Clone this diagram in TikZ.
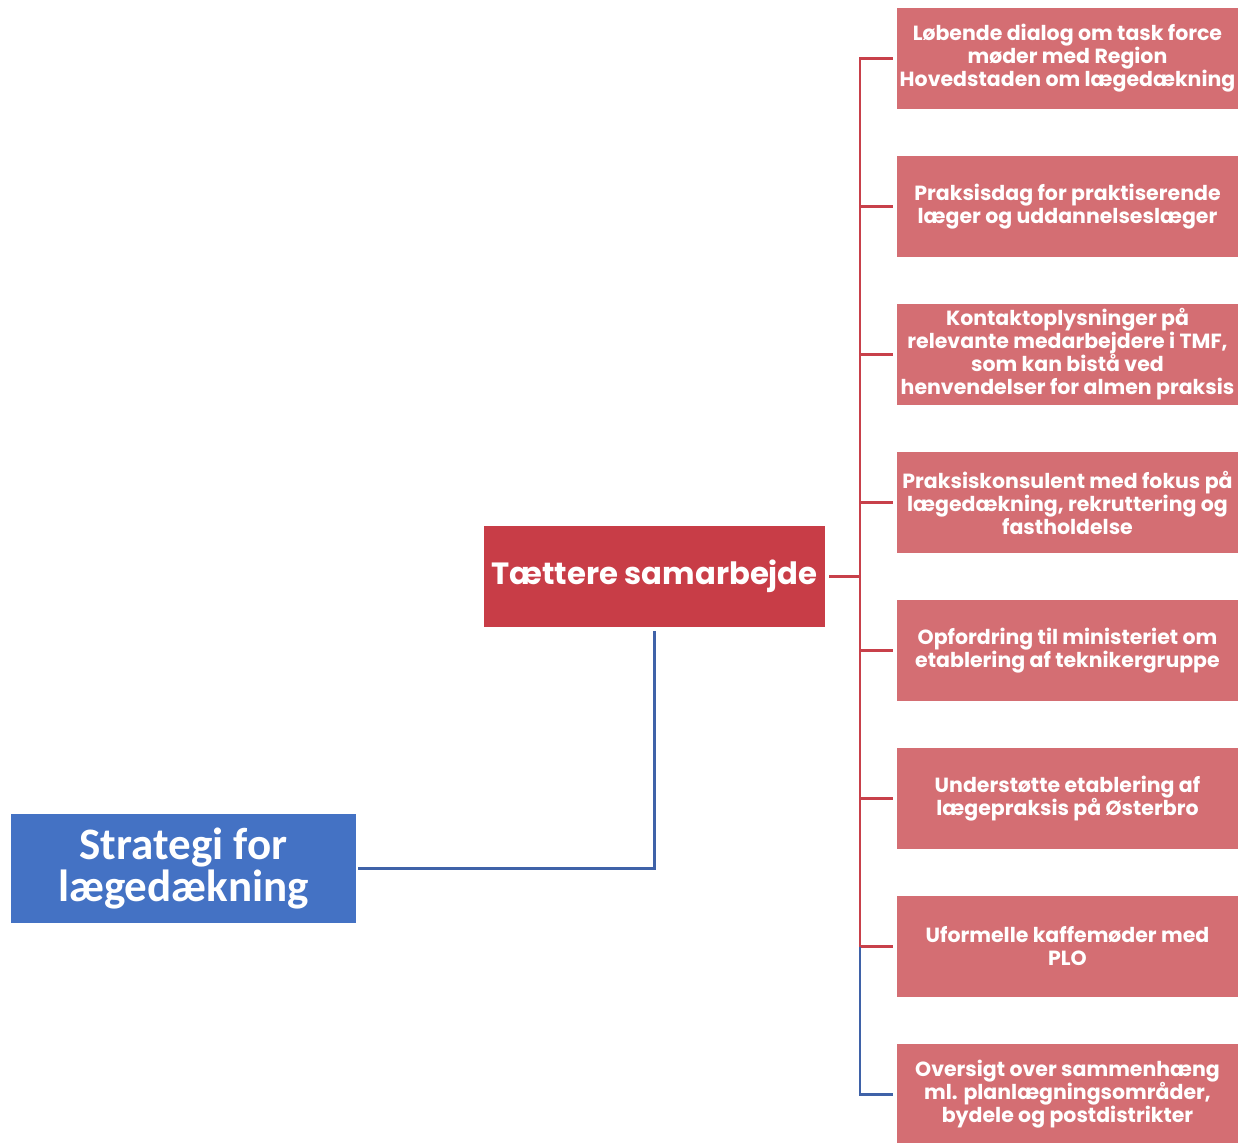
\documentclass[tikz,border=0pt]{standalone}
\usepackage{fontspec}
\setmainfont{Poppins}
\newfontfamily\rootfont{Carlito}
\definecolor{rootblue}{HTML}{4472C4}
\definecolor{midred}{HTML}{C83D47}
\definecolor{leafred}{HTML}{D46E73}
\definecolor{linered}{HTML}{C8404A}
\definecolor{lineblue}{HTML}{3F62A8}
\tikzset{
  rootbox/.style={fill=rootblue, text=white, minimum width=345pt, minimum height=109pt, inner sep=0pt, outer sep=2pt, align=center, font=\rootfont\bfseries\fontsize{45}{42}\selectfont},
  midbox/.style={fill=midred, text=white, minimum width=341pt, minimum height=101pt, inner sep=0pt, outer sep=4pt, align=center, font=\bfseries\fontsize{30.7}{34}\selectfont},
  leafbox/.style={fill=leafred, text=white, minimum width=341pt, minimum height=101pt, inner sep=0pt, outer sep=4pt, align=center, font=\bfseries\fontsize{20.5}{23}\selectfont},
  redline/.style={draw=linered, line width=2.5pt, line join=miter},
  blueline/.style={draw=lineblue, line width=2.5pt, line join=miter}
}
\begin{document}
\begin{tikzpicture}[x=1pt,y=-1pt]
\useasboundingbox (0,0) rectangle (1238,1142);
\node[rootbox] (root) at (183.5,868.5) {Strategi for\\lægedækning};
\node[midbox] (mid) at (654.5,576.5) {Tættere samarbejde};
\node[leafbox] (b1) at (1067.5,58.5) {Løbende dialog om task force\\møder med Region\\Hovedstaden om lægedækning};
\node[leafbox] (b2) at (1067.5,206.5) {Praksisdag for praktiserende\\læger og uddannelseslæger};
\node[leafbox] (b3) at (1067.5,354.5) {Kontaktoplysninger på\\relevante medarbejdere i TMF,\\som kan bistå ved\\henvendelser for almen praksis};
\node[leafbox] (b4) at (1067.5,502.5) {Praksiskonsulent med fokus på\\lægedækning, rekruttering og\\fastholdelse};
\node[leafbox] (b5) at (1067.5,650.5) {Opfordring til ministeriet om\\etablering af teknikergruppe};
\node[leafbox] (b6) at (1067.5,798.5) {Understøtte etablering af\\lægepraksis på Østerbro};
\node[leafbox] (b7) at (1067.5,946.5) {Uformelle kaffemøder med\\PLO};
\node[leafbox] (b8) at (1067.5,1094.5) {Oversigt over sammenhæng\\ml. planlægningsområder,\\bydele og postdistrikter};
\coordinate (spine) at (860,576.5);
\coordinate (j7) at (860,946.5);
\draw[blueline] (root.east) -| (mid.south);
\foreach \b in {b1,b2,b3,b4,b5,b6,b7}{
  \draw[redline] (mid.east) -- (spine) |- (\b.west);
}
\draw[blueline] (j7) |- (b8.west);
\end{tikzpicture}
\end{document}
